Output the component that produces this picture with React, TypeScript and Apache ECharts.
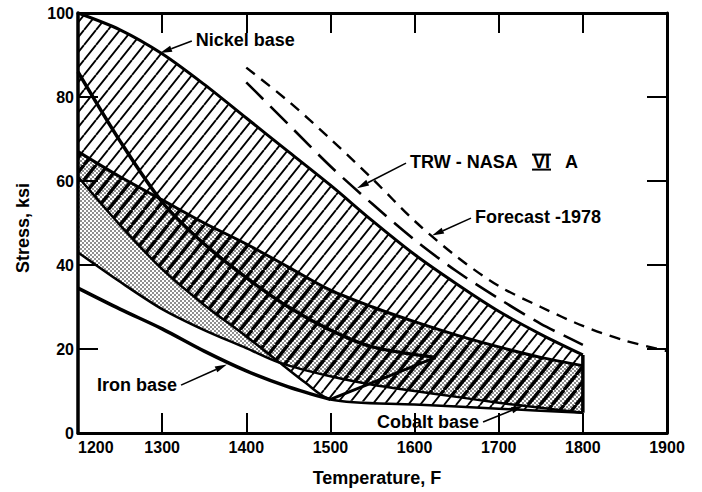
import React, { useEffect, useRef } from 'react';
import * as echarts from 'echarts';

type Pt = [number, number];

// ---- axes ----
const xTickValues = [1200, 1300, 1400, 1500, 1600, 1700, 1800, 1900];
const yTickValues = [0, 20, 40, 60, 80, 100];

// ---- envelopes (Temperature F, Stress ksi) ----
const nickelUpper: Pt[] = [[1200, 100], [1250, 96], [1300, 90.3], [1350, 83], [1400, 75], [1450, 67], [1500, 59], [1550, 50.5], [1600, 42.5], [1650, 35.5], [1700, 29], [1750, 23.5], [1800, 18.6]];
const nickelLower: Pt[] = [[1200, 61], [1250, 49.5], [1300, 39], [1350, 30.5], [1400, 23], [1440, 16.7], [1470, 12], [1500, 8], [1600, 6.8], [1700, 5.8], [1800, 4.8]];
const cobaltUpper: Pt[] = [[1200, 67], [1250, 61], [1300, 55.5], [1350, 50], [1400, 45], [1450, 39.5], [1500, 34], [1550, 30], [1600, 26.5], [1650, 23.3], [1700, 20.5], [1750, 18], [1800, 16]];
const cobaltLower: Pt[] = [[1200, 43], [1250, 36], [1300, 29.5], [1350, 24.5], [1400, 20.2], [1440, 16.7], [1500, 13.5], [1550, 11.5], [1600, 10], [1650, 8.6], [1700, 7.2], [1750, 6], [1800, 4.8]];
const ironUpper: Pt[] = [[1200, 86], [1250, 69.5], [1300, 55], [1350, 45], [1400, 37], [1450, 30], [1500, 24.5], [1550, 20.5], [1625, 18]];
const ironLower: Pt[] = [[1200, 34.5], [1250, 29.5], [1300, 24.8], [1350, 19.5], [1400, 14.8], [1450, 11], [1500, 8]];
const ironClosing: Pt[] = [[1500, 8], [1625, 18]];
const nickelRightEdge: Pt[] = [[1800, 18.6], [1800, 4.8]];

// ---- single alloys ----
const trwNasaVIA: Pt[] = [[1400, 83.5], [1450, 73.5], [1500, 63.5], [1550, 54.5], [1600, 46], [1650, 38.5], [1700, 32], [1750, 26], [1800, 21]];
const forecast1978: Pt[] = [[1400, 87], [1450, 79], [1500, 70], [1550, 60.5], [1600, 50.5], [1650, 42], [1700, 35], [1750, 30], [1800, 25.5], [1850, 22], [1900, 19.5]];

// ---- annotations ----
const labelTexts = ['Nickel base', 'TRW - NASA', 'Forecast -1978', 'Iron base', 'Cobalt base'];
const arrowTips: Pt[] = [[1297.5, 90.5], [1531.6, 58.3], [1620.7, 47], [1377, 16.3], [1729, 6.5]];
const labelAnchors: Pt[] = [[1340, 93.6], [1594.6, 64.5], [1671.8, 51.4], [1222.6, 11.4], [1555.4, 2.6]];

const FONT_FAMILY = '"Liberation Sans", Arial, Helvetica, sans-serif';
const LABEL_FONT = `bold 18px ${FONT_FAMILY}`;

let measureCtx: CanvasRenderingContext2D | null = null;
function textWidth(text: string, font: string): number {
  if (!measureCtx) measureCtx = document.createElement('canvas').getContext('2d');
  if (!measureCtx) return text.length * 9;
  measureCtx.font = font;
  return measureCtx.measureText(text).width;
}

function svgPattern(svg: string, w: number, h: number): any {
  return {
    image: 'data:image/svg+xml;charset=utf-8,' + encodeURIComponent(svg),
    repeat: 'repeat',
    imageWidth: w,
    imageHeight: h,
  };
}

const hatchSvg = (sw: number) =>
  `<svg xmlns="http://www.w3.org/2000/svg" width="12" height="15"><path d="M-12 15L0 0M0 15L12 0M12 15L24 0" stroke="#000" stroke-width="${sw}" fill="none"/></svg>`;
const hatchFill = svgPattern(hatchSvg(1.9), 12, 15);
const thickHatchFill = svgPattern(hatchSvg(3.4), 12, 15);
const dotFill = svgPattern(
  '<svg xmlns="http://www.w3.org/2000/svg" width="4" height="4"><circle cx="1" cy="1" r="0.8" fill="#000"/><circle cx="3" cy="3" r="0.8" fill="#000"/></svg>',
  4,
  4
);

const ringOf = (upper: Pt[], lower: Pt[]): Pt[] => [...upper, ...[...lower].reverse()];

function areaSeries(name: string, upper: Pt[], lower: Pt[], fill: any, z: number, clipUpper?: Pt[], clipLower?: Pt[]) {
  const ring = ringOf(upper, lower);
  const clipRing = clipUpper && clipLower ? ringOf(clipUpper, clipLower) : null;
  return {
    name,
    type: 'custom',
    coordinateSystem: 'cartesian2d',
    z,
    silent: true,
    data: ring,
    encode: { x: 0, y: 1 },
    renderItem: (params: any, api: any) => {
      if (params.dataIndex !== 0) return null;
      const el: any = {
        type: 'polygon',
        shape: { points: ring.map((p) => api.coord(p)) },
        style: { fill, stroke: 'none' },
      };
      if (clipRing) {
        el.clipPath = { type: 'polygon', shape: { points: clipRing.map((p) => api.coord(p)) } };
      }
      return el;
    },
  };
}

function lineSeries(name: string, data: Pt[], width: number, type: any = 'solid', smooth: number | boolean = 0.3, z = 5) {
  return {
    name,
    type: 'line',
    data,
    showSymbol: false,
    symbol: 'none',
    smooth,
    z,
    silent: true,
    lineStyle: { color: '#000', width, type, cap: 'butt', join: 'round' },
  };
}

const annotationSeries = {
  name: 'annotations',
  type: 'custom',
  coordinateSystem: 'cartesian2d',
  z: 10,
  silent: true,
  data: arrowTips,
  encode: { x: 0, y: 1 },
  renderItem: (params: any, api: any) => {
    const i = params.dataIndex;
    const a = api.coord(labelAnchors[i]);
    const t = api.coord(arrowTips[i]);
    const w = textWidth(labelTexts[i], LABEL_FONT);
    const tail = t[0] > a[0] + w ? [a[0] + w + 4, a[1]] : [a[0] - 4, a[1] + 1];
    const dx = t[0] - tail[0];
    const dy = t[1] - tail[1];
    const len = Math.hypot(dx, dy) || 1;
    const ux = dx / len;
    const uy = dy / len;
    const headLen = 12;
    const headW = 3.2;
    const base = [t[0] - ux * headLen, t[1] - uy * headLen];
    const children: any[] = [
      { type: 'line', shape: { x1: tail[0], y1: tail[1], x2: base[0], y2: base[1] }, style: { stroke: '#000', lineWidth: 1.6 } },
      {
        type: 'polygon',
        shape: { points: [t, [base[0] - uy * headW, base[1] + ux * headW], [base[0] + uy * headW, base[1] - ux * headW]] },
        style: { fill: '#000' },
      },
      {
        type: 'text',
        x: a[0],
        y: a[1],
        style: { text: labelTexts[i], font: LABEL_FONT, fill: '#000', align: 'left', verticalAlign: 'middle' },
      },
    ];
    if (i === 1) {
      const vx = a[0] + 123;
      children.push({ type: 'text', x: vx, y: a[1], style: { text: 'VI', font: LABEL_FONT, fill: '#000', align: 'left', verticalAlign: 'middle' } });
      children.push({ type: 'line', shape: { x1: vx - 1, y1: a[1] - 7.5, x2: vx + 18, y2: a[1] - 7.5 }, style: { stroke: '#000', lineWidth: 2 } });
      children.push({ type: 'line', shape: { x1: vx - 1, y1: a[1] + 7.5, x2: vx + 18, y2: a[1] + 7.5 }, style: { stroke: '#000', lineWidth: 2 } });
      children.push({ type: 'text', x: a[0] + 155, y: a[1], style: { text: 'A', font: LABEL_FONT, fill: '#000', align: 'left', verticalAlign: 'middle' } });
    }
    return { type: 'group', children };
  },
};

const axisLabelStyle = { fontFamily: FONT_FAMILY, fontWeight: 'bold' as const, fontSize: 16, color: '#000' };

function xAxisCfg(position: 'bottom' | 'top', showLabel: boolean) {
  return {
    type: 'value',
    position,
    min: xTickValues[0],
    max: xTickValues[xTickValues.length - 1],
    interval: xTickValues[1] - xTickValues[0],
    axisLine: { show: true, onZero: false, lineStyle: { color: '#000', width: 3 } },
    axisTick: { show: true, inside: true, length: 20, lineStyle: { color: '#000', width: 2 } },
    axisLabel: { show: showLabel, ...axisLabelStyle, margin: 6, alignMinLabel: 'left', formatter: (v: number) => String(v) },
    splitLine: { show: false },
  };
}

function yAxisCfg(position: 'left' | 'right', showLabel: boolean) {
  return {
    type: 'value',
    position,
    min: yTickValues[0],
    max: yTickValues[yTickValues.length - 1],
    interval: yTickValues[1] - yTickValues[0],
    axisLine: { show: true, onZero: false, lineStyle: { color: '#000', width: position === 'left' ? 3.5 : 3 } },
    axisTick: { show: true, inside: true, length: 20, lineStyle: { color: '#000', width: 2 } },
    axisLabel: { show: showLabel, ...axisLabelStyle, margin: 4, formatter: (v: number) => String(v) },
    splitLine: { show: false },
  };
}

export default function App() {
  const ref = useRef<HTMLDivElement>(null);
  useEffect(() => {
    const el = ref.current;
    if (!el) return;
    const chart = echarts.init(el, null, { renderer: 'svg' });
    const option: any = {
      animation: false,
      backgroundColor: '#fff',
      grid: { left: 78, right: 35, top: 13, bottom: 59, containLabel: false },
      xAxis: [xAxisCfg('bottom', true), xAxisCfg('top', false)],
      yAxis: [yAxisCfg('left', true), yAxisCfg('right', false)],
      graphic: [
        {
          type: 'text',
          x: 23,
          y: 228,
          rotation: Math.PI / 2,
          style: { text: 'Stress, ksi', font: `bold 18px ${FONT_FAMILY}`, fill: '#000', align: 'center', verticalAlign: 'middle' },
        },
        {
          type: 'text',
          x: 377,
          y: 478,
          style: { text: 'Temperature, F', font: `bold 18px ${FONT_FAMILY}`, fill: '#000', align: 'center', verticalAlign: 'middle' },
        },
      ],
      series: [
        areaSeries('Nickel base area', nickelUpper, nickelLower, hatchFill, 1),
        areaSeries('Cobalt base area', cobaltUpper, cobaltLower, dotFill, 2),
        areaSeries('Nickel/Cobalt overlap', cobaltUpper, cobaltLower, thickHatchFill, 3, nickelUpper, nickelLower),
        lineSeries('Nickel upper', nickelUpper, 3),
        lineSeries('Nickel lower', nickelLower, 2.5),
        lineSeries('Nickel right edge', nickelRightEdge, 3.5, 'solid', false),
        lineSeries('Cobalt upper', cobaltUpper, 3),
        lineSeries('Cobalt lower', cobaltLower, 2.5),
        lineSeries('Iron upper', ironUpper, 3.5),
        lineSeries('Iron lower', ironLower, 3.5),
        lineSeries('Iron closing', ironClosing, 3, 'solid', false),
        lineSeries('TRW-NASA VI A', trwNasaVIA, 2.6, [24, 10], 0.3, 6),
        lineSeries('Forecast 1978', forecast1978, 2.4, [11, 8], 0.3, 6),
        annotationSeries,
      ],
    };
    chart.setOption(option);
    return () => chart.dispose();
  }, []);
  return <div ref={ref} style={{ position: 'absolute', left: 0, top: 0, width: 702, height: 492, background: '#fff' }} />;
}
